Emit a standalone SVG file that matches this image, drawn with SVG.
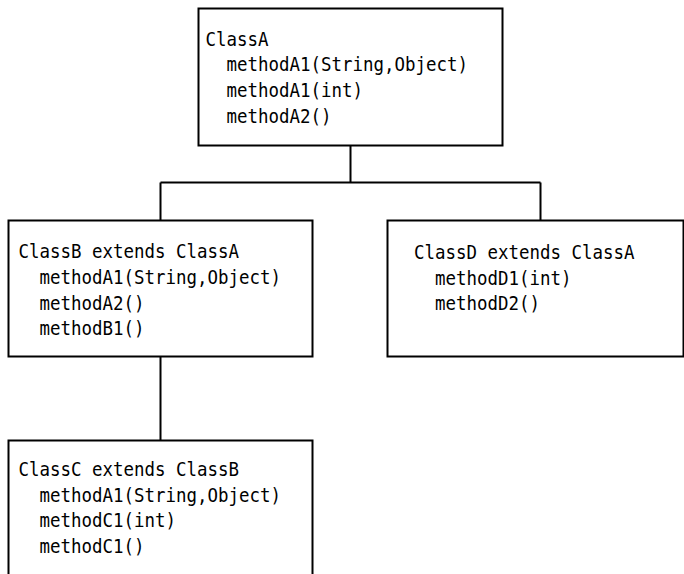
<svg xmlns="http://www.w3.org/2000/svg" width="684" height="574" viewBox="0 0 684 574">
<style>
.box{fill:#fff;stroke:#000;stroke-width:2}
.ln{fill:none;stroke:#000;stroke-width:2}
text{font-family:"DejaVu Sans Mono","Liberation Mono",monospace;font-size:20px;fill:#000;lengthAdjust:spacingAndGlyphs}
</style>
<rect width="684" height="574" fill="#fff"/>
<g id="connectors">
<path class="ln" d="M350.5 145.5V182.5M160.5 182.5H540.5M160.5 182.5V220.5M540.5 182.5V220.5M160.5 356.5V440.5"/>
</g>
<g id="classA">
<rect class="box" x="198.5" y="8.5" width="304" height="137"/>
<text x="205.5" y="45.5" textLength="63" lengthAdjust="spacingAndGlyphs">ClassA</text>
<text x="226.5" y="71.2" textLength="241.5" lengthAdjust="spacingAndGlyphs">methodA1(String,Object)</text>
<text x="226.5" y="96.9" textLength="136.5" lengthAdjust="spacingAndGlyphs">methodA1(int)</text>
<text x="226.5" y="122.6" textLength="105" lengthAdjust="spacingAndGlyphs">methodA2()</text>
</g>
<g id="classB">
<rect class="box" x="8.5" y="220.5" width="304" height="136"/>
<text x="18.5" y="258.3" textLength="220.5" lengthAdjust="spacingAndGlyphs">ClassB extends ClassA</text>
<text x="39.5" y="284" textLength="241.5" lengthAdjust="spacingAndGlyphs">methodA1(String,Object)</text>
<text x="39.5" y="309.6" textLength="105" lengthAdjust="spacingAndGlyphs">methodA2()</text>
<text x="39.5" y="335.2" textLength="105" lengthAdjust="spacingAndGlyphs">methodB1()</text>
</g>
<g id="classD">
<rect class="box" x="387.5" y="220.5" width="296" height="136"/>
<text x="414" y="259" textLength="220.5" lengthAdjust="spacingAndGlyphs">ClassD extends ClassA</text>
<text x="435" y="284.6" textLength="136.5" lengthAdjust="spacingAndGlyphs">methodD1(int)</text>
<text x="435" y="310.2" textLength="105" lengthAdjust="spacingAndGlyphs">methodD2()</text>
</g>
<g id="classC">
<rect class="box" x="8.5" y="440.5" width="304" height="145"/>
<text x="18.5" y="476" textLength="220.5" lengthAdjust="spacingAndGlyphs">ClassC extends ClassB</text>
<text x="39.5" y="501.7" textLength="241.5" lengthAdjust="spacingAndGlyphs">methodA1(String,Object)</text>
<text x="39.5" y="527.4" textLength="136.5" lengthAdjust="spacingAndGlyphs">methodC1(int)</text>
<text x="39.5" y="553.1" textLength="105" lengthAdjust="spacingAndGlyphs">methodC1()</text>
</g>
</svg>
